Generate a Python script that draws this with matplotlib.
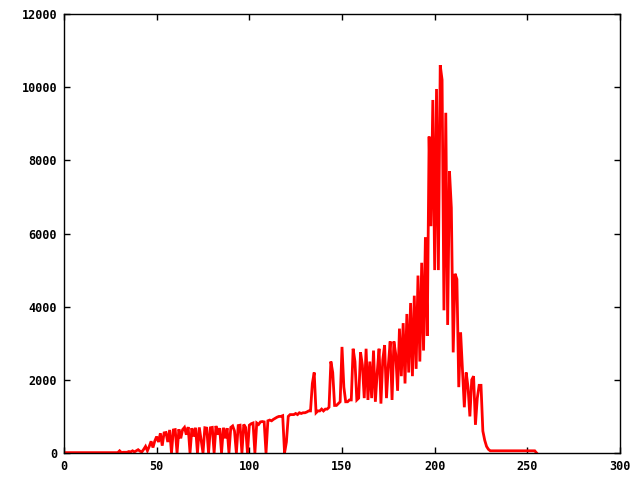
import matplotlib
matplotlib.use("Agg")
import matplotlib.pyplot as plt

# histogram counts for intensity levels 0..255
counts_000_029 = [10] * 30
counts_030_049 = [60, 10, 20, 20, 20, 40, 30, 60, 30, 60,
                  90, 50, 30, 100, 180, 60, 180, 320, 150, 330]
counts_050_099 = [450, 300, 540, 200, 550, 560, 300, 630, 0, 630,
                  640, 0, 650, 400, 640, 700, 500, 710, 0, 680,
                  450, 690, 0, 700, 350, 0, 690, 680, 0, 690,
                  700, 0, 740, 500, 680, 0, 690, 400, 680, 0,
                  700, 740, 600, 0, 750, 760, 0, 780, 700, 0]
counts_100_149 = [760, 800, 820, 0, 820, 780, 850, 860, 850, 0,
                  880, 900, 880, 920, 950, 980, 1000, 1000, 1020, 0,
                  300, 1000, 1050, 1050, 1050, 1080, 1050, 1100, 1080, 1100,
                  1100, 1120, 1150, 1150, 1900, 2200, 1100, 1150, 1150, 1200,
                  1150, 1200, 1200, 1250, 2500, 2200, 1300, 1300, 1350, 1400]
counts_150_199 = [2900, 1800, 1400, 1400, 1450, 1450, 2850, 2500, 1450, 1500,
                  2750, 2400, 1500, 2850, 1450, 2500, 1500, 2800, 1400, 2200,
                  2850, 1350, 2550, 2950, 1500, 2400, 3050, 1450, 3050, 2700,
                  1700, 3400, 2100, 3550, 1900, 3800, 2200, 4100, 2100, 4300,
                  2300, 4850, 2500, 5200, 2800, 5900, 3200, 8650, 6200, 9650]
counts_200_255 = [5000, 9950, 5000, 10600, 10200, 3900, 9300, 3500, 7700, 6700,
                  2750, 4900, 4750, 1800, 3300, 2300, 1250, 2200, 1800, 1000,
                  2000, 2100, 770, 1500, 1850, 1850, 600, 350, 180, 100,
                  60, 60, 60, 60, 60, 60, 60, 60, 60, 60,
                  60, 60, 60, 60, 60, 60, 60, 60, 60, 60,
                  60, 60, 60, 60, 60, 0]

counts = (counts_000_029 + counts_030_049 + counts_050_099 +
          counts_100_149 + counts_150_199 + counts_200_255)
levels = list(range(len(counts)))

x_ticks = [0, 50, 100, 150, 200, 250, 300]
y_ticks = [0, 2000, 4000, 6000, 8000, 10000, 12000]

fig = plt.figure(figsize=(6.4, 4.8), dpi=100)
ax = fig.add_axes([64 / 640, 27 / 480, 556 / 640, 439 / 480])
ax.plot(levels, counts, color="#ff0000", linewidth=2.0,
        solid_joinstyle="miter")
ax.set_xlim(0, 300)
ax.set_ylim(0, 12000)
ax.set_xticks(x_ticks)
ax.set_yticks(y_ticks)
ax.tick_params(direction="in", length=4, width=1, top=True, right=True,
               labelsize=8.5, pad=5)
for lab in ax.get_xticklabels() + ax.get_yticklabels():
    lab.set_family("DejaVu Sans Mono")
    lab.set_fontweight("bold")
for s in ax.spines.values():
    s.set_linewidth(1)
fig.savefig("out.png", dpi=100)
